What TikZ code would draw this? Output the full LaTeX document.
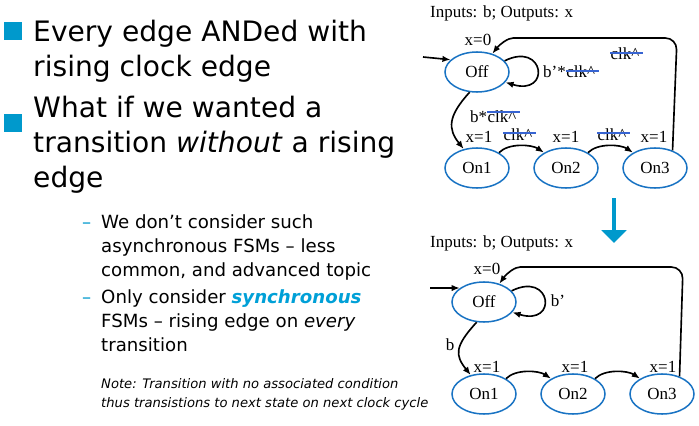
\documentclass[tikz,border=0pt]{standalone}
\usepackage{fontspec}
\setmainfont{Liberation Serif}
\setsansfont{DejaVu Sans}
\usetikzlibrary{arrows.meta,shapes.geometric}
\definecolor{bulletblue}{RGB}{0,153,204}
\definecolor{synblue}{RGB}{0,160,215}
\definecolor{stateblue}{RGB}{25,115,195}
\definecolor{strikeblue}{RGB}{55,100,210}

\tikzset{
  state/.style={ellipse, draw=stateblue, line width=1.3pt, minimum width=1.92cm,
    minimum height=1.2cm, inner sep=0pt, font=\fontsize{14.5}{16}\selectfont},
  trans/.style={-{Latex[length=7pt,width=5.5pt]}, line width=1.4pt},
  lbl/.style={font=\fontsize{14.5}{16}\selectfont, inner sep=0pt},
  strike/.style={draw=strikeblue, line width=1.6pt},
  bigtext/.style={anchor=base west, inner sep=0pt, align=left,
    font=\sffamily\fontsize{24}{30.2}\selectfont},
  subtext/.style={anchor=base west, inner sep=0pt, align=left,
    font=\sffamily\fontsize{15.5}{20.4}\selectfont},
  notetext/.style={anchor=base west, inner sep=0pt, align=left,
    font=\sffamily\itshape\fontsize{11.2}{16.2}\selectfont},
  sqbullet/.style={fill=bulletblue, minimum size=0.56cm, inner sep=0pt},
  dashmark/.style={anchor=base west, inner sep=0pt, text=bulletblue,
    font=\sffamily\fontsize{15.5}{20.4}\selectfont},
  bigarrow/.style={-{Triangle[length=11pt,width=21pt]}, line width=3.4pt, draw=bulletblue}
}

\begin{document}
\begin{tikzpicture}[x=0.03cm, y=-0.03cm]
  \useasboundingbox (0,0) rectangle (699,426);

  % left column text (base = last line)
  \node[sqbullet] (bulA) at (13,31) {};
  \node[bigtext] (txtA) at (33,77) {Every edge ANDed with\\rising clock edge};
  \node[sqbullet] (bulB) at (13,123) {};
  \node[bigtext] (txtB) at (33,188) {What if we wanted a\\transition \textit{without} a rising\\edge};
  \node[dashmark] (dashA) at (82,228) {–};
  \node[subtext] (txtC) at (101,276) {We don’t consider such\\asynchronous FSMs – less\\common, and advanced topic};
  \node[dashmark] (dashB) at (82,303) {–};
  \node[subtext] (txtD) at (101,351) {Only consider \textcolor{synblue}{\textbf{\textit{synchronous}}}\\FSMs – rising edge on \textit{every}\\transition};
  \node[notetext] (note) at (101,407) {Note: Transition with no associated condition\\thus transistions to next state on next clock cycle};

  % upper FSM, clock on every edge
  \node[lbl, anchor=base west] (titleA) at (430,17.5) {Inputs: b; Outputs: x};
  \node[state] (offA) at (477,72) {Off};
  \node[state] (onAa) at (477,168) {On1};
  \node[state] (onAb) at (566,168) {On2};
  \node[state] (onAc) at (655,168) {On3};
  \node[lbl] (outA) at (478,40) {x=0};
  \node[lbl] (outAa) at (479,137) {x=1};
  \node[lbl] (outAb) at (566,137) {x=1};
  \node[lbl] (outAc) at (654,137) {x=1};
  \coordinate (initA) at (423,57);
  \draw[trans] (initA) -- (offA.155);
  \draw[trans] (offA.22) .. controls +(40,-20) and +(46,14) .. (offA.-20);
  \draw[trans] (offA.250) .. controls +(-22,24) and +(-16,-20) .. (onAa.125);
  \draw[trans] (onAa.35) .. controls +(10,-10) and +(-12,-8) .. (onAb.145);
  \draw[trans] (onAb.35) .. controls +(10,-10) and +(-12,-8) .. (onAc.145);
  \draw[trans, rounded corners=10pt] (onAc.45) -- (677,38) -- (525,38)
    .. controls (508,38) and (500,44) .. (offA.50);
  % guard labels with the struck clock
  \node[lbl, anchor=west] (gdA) at (543,72) {b’*};
  \node[lbl, anchor=west] (ckA) at (gdA.east) {clk\textasciicircum};
  \node[lbl, anchor=west] (gdB) at (470,117) {b*};
  \node[lbl, anchor=west] (ckB) at (gdB.east) {clk\textasciicircum};
  \node[lbl] (ckC) at (518,135) {clk\textasciicircum};
  \node[lbl] (ckD) at (612,135) {clk\textasciicircum};
  \node[lbl] (ckE) at (625,54) {clk\textasciicircum};
  \draw[strike] ([yshift=1pt]ckA.west) -- ([xshift=3pt,yshift=1pt]ckA.east);
  \draw[strike] ([yshift=4pt]ckB.west) -- ([xshift=3pt,yshift=4pt]ckB.east);
  \draw[strike] ([yshift=2pt]ckC.west) -- ([xshift=3pt,yshift=2pt]ckC.east);
  \draw[strike] ([yshift=2pt]ckD.west) -- ([xshift=3pt,yshift=2pt]ckD.east);
  \draw[strike] ([yshift=1pt]ckE.west) -- ([xshift=3pt,yshift=1pt]ckE.east);

  % arrow between the two
  \coordinate (arrTop) at (614,198);
  \coordinate (arrBot) at (614,243);
  \draw[bigarrow] (arrTop) -- (arrBot);

  % lower FSM, clock left implicit
  \node[lbl, anchor=base west] (titleB) at (430,247) {Inputs: b; Outputs: x};
  \node[state] (offB) at (484,302) {Off};
  \node[state] (onBa) at (484,394) {On1};
  \node[state] (onBb) at (573,394) {On2};
  \node[state] (onBc) at (662,394) {On3};
  \node[lbl] (outB) at (487,269) {x=0};
  \node[lbl] (outBa) at (487,367) {x=1};
  \node[lbl] (outBb) at (575,367) {x=1};
  \node[lbl] (outBc) at (663,367) {x=1};
  \coordinate (initB) at (430,288);
  \draw[trans] (initB) -- (offB.150);
  \draw[trans] (offB.22) .. controls +(40,-20) and +(46,14) .. (offB.-20);
  \draw[trans] (offB.250) .. controls +(-22,24) and +(-16,-20) .. (onBa.125);
  \draw[trans] (onBa.35) .. controls +(10,-10) and +(-12,-8) .. (onBb.145);
  \draw[trans] (onBb.35) .. controls +(10,-10) and +(-12,-8) .. (onBc.145);
  \draw[trans, rounded corners=10pt] (onBc.45) -- (683,267) -- (532,267)
    .. controls (515,267) and (507,273) .. (offB.50);
  \node[lbl] (gdC) at (558,301) {b’};
  \node[lbl] (gdD) at (450,345) {b};
\end{tikzpicture}
\end{document}
